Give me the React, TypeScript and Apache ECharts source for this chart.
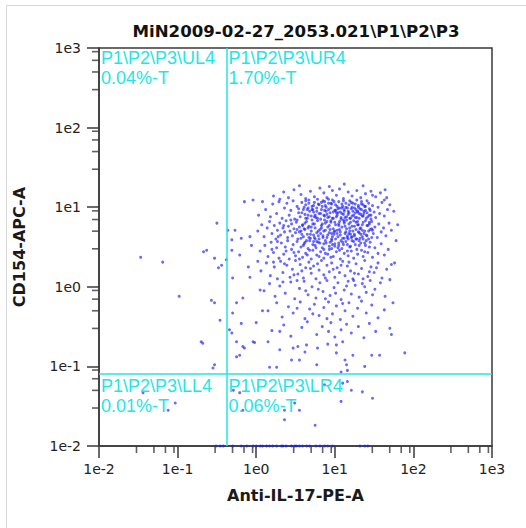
import React, { useEffect, useRef } from 'react';
import * as echarts from 'echarts';

const TITLE = 'MiN2009-02-27_2053.021\\P1\\P2\\P3';
const X_NAME = 'Anti-IL-17-PE-A';
const Y_NAME = 'CD154-APC-A';
const AXIS_MIN = 0.01;
const AXIS_MAX = 1000;
const GATE_X = 0.42;
const GATE_Y = 0.076;
const CYAN = '#22e6e6';
const DOT = 'rgba(28,28,250,0.82)';
const INK = '#3a3a3a';

const quadrantNames = ['P1\\P2\\P3\\UL4', 'P1\\P2\\P3\\UR4', 'P1\\P2\\P3\\LL4', 'P1\\P2\\P3\\LR4'];
const quadrantPercents = ['0.04%-T', '1.70%-T', '0.01%-T', '0.06%-T'];
const quadrantAnchorX = [AXIS_MIN, GATE_X, AXIS_MIN, GATE_X];
const quadrantAnchorY = [AXIS_MAX, AXIS_MAX, GATE_Y, GATE_Y];

const minorTickValues = [
  0.03, 0.05, 0.07, 0.09, 0.3, 0.5, 0.7, 0.9, 3, 5, 7, 9, 30, 50, 70, 90, 300, 500, 700, 900,
];

// events as [log10 PE, log10 APC]
const upperCluster: number[][] = [
  [0.22,1.14],[0.35,1.19],[0.41,1.12],[0.48,1.22],[0.57,1.16],[0.63,1.11],[0.69,1.2],[0.74,1.13],[0.81,1.24],[0.86,1.18],
  [0.9,1.12],[0.97,1.21],[1.02,1.15],[1.06,1.23],[1.11,1.11],[1.17,1.19],[1.22,1.14],[1.28,1.21],[1.33,1.12],[1.39,1.17],
  [1.46,1.2],[1.52,1.13],[1.58,1.18],[0.3,1.1],[0.78,1.1],
  [0.12,0.97],[0.18,0.88],[0.21,1.04],[0.26,0.92],[0.29,1.07],[0.33,0.86],[0.36,0.99],[0.39,1.05],[0.42,0.9],[0.44,0.96],
  [0.47,1.08],[0.49,0.85],[0.52,1.01],[0.54,0.93],[0.56,0.88],[0.58,1.06],[0.6,0.97],[0.62,0.91],[0.63,1.03],[0.65,0.86],
  [0.67,1.09],[0.68,0.95],[0.7,0.89],[0.71,1.01],[0.73,0.94],[0.74,1.06],[0.76,0.87],[0.77,0.99],[0.79,1.04],[0.8,0.92],
  [0.82,0.85],[0.83,0.97],[0.85,1.08],[0.86,0.9],[0.88,1.02],[0.89,0.95],[0.91,0.87],[0.92,1.05],[0.94,0.93],[0.95,0.99],
  [0.97,1.09],[0.98,0.86],[1.0,0.96],[1.01,1.03],[1.03,0.9],[1.04,0.98],[1.05,1.07],[1.07,0.94],[1.08,0.85],[1.1,1.01],
  [1.11,0.91],[1.12,0.97],[1.14,1.05],[1.15,0.88],[1.16,0.99],[1.18,0.93],[1.19,1.08],[1.2,0.86],[1.22,1.0],[1.23,0.95],
  [1.24,0.9],[1.26,1.04],[1.27,0.97],[1.28,0.87],[1.3,1.02],[1.31,0.92],[1.32,0.98],[1.34,1.07],[1.35,0.89],[1.37,0.95],
  [1.38,1.01],[1.4,0.86],[1.41,0.93],[1.43,1.05],[1.44,0.98],[1.46,0.9],[1.48,1.02],[1.5,0.94],[1.52,0.87],[1.55,1.0],
  [1.57,0.92],[1.6,1.06],[1.63,0.89],[1.67,0.97],[1.7,1.03],[0.66,0.99],[0.75,0.9],[0.84,1.01],[0.93,0.88],[1.02,0.93],
  [1.09,1.04],[1.13,0.87],[1.21,1.06],[1.29,0.94],[1.36,1.03],[1.42,0.88],[1.06,0.99],[0.96,1.04],[0.87,0.96],[1.17,0.95],
  [1.25,0.99],[1.33,0.91],[0.72,0.97],[0.61,1.0],[1.39,0.96],
];

const middleCluster: number[][] = [
  [0.02,0.7],[0.07,0.78],[0.1,0.63],[0.14,0.74],[0.17,0.82],[0.2,0.67],[0.23,0.77],[0.25,0.6],[0.27,0.71],[0.3,0.8],
  [0.31,0.65],[0.34,0.74],[0.36,0.69],[0.38,0.83],[0.4,0.62],[0.41,0.76],[0.43,0.7],[0.45,0.79],[0.46,0.64],[0.48,0.73],
  [0.5,0.68],[0.51,0.81],[0.53,0.6],[0.55,0.75],[0.57,0.7],[0.59,0.78],[0.6,0.63],[0.62,0.72],[0.64,0.82],[0.65,0.66],
  [0.67,0.76],[0.69,0.61],[0.7,0.7],[0.72,0.79],[0.73,0.65],[0.75,0.74],[0.77,0.68],[0.78,0.83],[0.8,0.6],[0.81,0.72],
  [0.83,0.77],[0.85,0.64],[0.86,0.7],[0.88,0.8],[0.9,0.62],[0.91,0.75],[0.93,0.68],[0.95,0.81],[0.96,0.6],[0.98,0.73],
  [0.99,0.66],[1.01,0.78],[1.03,0.71],[1.04,0.63],[1.06,0.82],[1.07,0.69],[1.09,0.75],[1.1,0.61],[1.12,0.8],[1.13,0.67],
  [1.15,0.73],[1.16,0.64],[1.18,0.79],[1.19,0.7],[1.21,0.62],[1.22,0.76],[1.24,0.83],[1.25,0.66],[1.27,0.72],[1.28,0.6],
  [1.3,0.78],[1.31,0.68],[1.33,0.74],[1.35,0.63],[1.36,0.81],[1.38,0.7],[1.4,0.65],[1.41,0.77],[1.43,0.6],[1.45,0.72],
  [1.47,0.82],[1.49,0.67],[1.51,0.75],[1.54,0.62],[1.56,0.79],[1.59,0.69],[1.62,0.74],[1.65,0.64],[1.69,0.8],[0.28,0.63],
  [0.44,0.84],[0.58,0.66],[0.74,0.62],[0.87,0.84],[1.0,0.7],[1.11,0.84],[1.2,0.66],[1.32,0.61],[1.44,0.79],[0.52,0.72],
  [0.66,0.74],[0.94,0.72],[1.05,0.77],[1.17,0.6],[1.29,0.82],[1.37,0.67],[0.35,0.77],[0.82,0.67],[1.48,0.71],
  [0.05,0.45],[0.11,0.52],[0.15,0.38],[0.19,0.56],[0.22,0.43],[0.26,0.49],[0.29,0.36],[0.32,0.55],[0.35,0.41],[0.37,0.5],
  [0.4,0.58],[0.42,0.35],[0.45,0.47],[0.47,0.53],[0.5,0.39],[0.52,0.57],[0.54,0.44],[0.57,0.5],[0.59,0.37],[0.61,0.54],
  [0.63,0.42],[0.66,0.48],[0.68,0.58],[0.7,0.35],[0.72,0.46],[0.75,0.52],[0.77,0.4],[0.79,0.56],[0.82,0.44],[0.84,0.49],
  [0.86,0.36],[0.89,0.55],[0.91,0.41],[0.93,0.47],[0.96,0.58],[0.98,0.38],[1.0,0.51],[1.02,0.44],[1.05,0.55],[1.07,0.35],
  [1.09,0.48],[1.12,0.42],[1.14,0.57],[1.17,0.39],[1.19,0.5],[1.21,0.45],[1.24,0.36],[1.26,0.53],[1.29,0.41],[1.31,0.58],
  [1.34,0.46],[1.36,0.38],[1.39,0.52],[1.42,0.43],[1.45,0.56],[1.48,0.37],[1.51,0.49],[1.55,0.42],[1.59,0.54],[1.63,0.4],
  [1.68,0.47],[0.2,0.47],[0.38,0.45],[0.55,0.35],[0.65,0.4],[0.73,0.57],[0.88,0.42],[0.95,0.37],[1.04,0.49],[1.11,0.53],
  [1.22,0.58],[1.28,0.47],[1.38,0.44],[1.44,0.5],[0.8,0.38],[0.48,0.43],[0.62,0.56],[0.97,0.53],[1.16,0.45],[1.33,0.55],
  [0.27,0.57],
];

const coreEvents: number[][] = [
  [0.83,1.06],[1.27,0.81],[0.64,0.58],[1.12,0.95],[0.97,0.63],[1.41,1.08],[0.71,0.84],[1.05,0.52],[0.58,0.93],[1.33,0.66],
  [0.92,1.1],[1.19,0.74],[0.76,0.49],[1.46,0.85],[1.02,0.88],[0.67,1.05],[1.24,0.57],[0.88,0.71],[1.37,0.92],[0.55,0.69],
  [1.09,0.99],[0.81,0.55],[1.3,1.0],[0.95,0.83],[1.16,0.62],[0.73,1.02],[1.43,0.7],[1.01,0.6],[0.62,0.8],[1.22,0.89],
  [0.86,0.47],[1.35,0.78],[0.99,1.07],[1.14,0.69],[0.69,0.66],[1.28,1.09],[0.9,0.91],[1.06,0.72],[0.77,0.95],[1.4,0.58],
  [0.6,0.52],[1.18,1.03],[0.94,0.56],[1.31,0.86],[0.84,0.79],[1.08,0.87],[0.72,0.53],[1.45,0.96],[1.0,0.81],[1.25,0.64],
  [0.66,0.9],[1.13,0.76],[0.89,1.0],[1.36,0.6],[0.79,0.7],[1.21,0.98],[0.96,0.48],[1.04,0.93],[0.57,0.61],[1.32,0.73],
  [1.11,1.08],[0.85,0.62],[1.39,0.83],[0.7,0.75],[1.2,0.51],[0.93,0.77],[1.47,0.62],[0.63,1.08],[1.07,0.65],[1.29,0.95],
  [0.78,0.86],[1.15,0.84],[0.98,0.94],[1.34,1.04],[0.52,0.84],[1.23,0.7],[0.87,0.89],[1.1,0.56],[0.75,0.6],[1.42,0.77],
  [1.03,1.01],[0.68,0.46],[1.26,0.87],[0.91,0.65],[1.17,0.91],[0.8,1.03],[1.38,0.55],[0.61,0.73],[1.05,0.79],[1.3,0.69],
  [0.95,1.05],[1.12,0.61],[0.74,0.88],[1.44,0.9],[0.86,0.54],[1.2,0.81],[0.99,0.69],[1.34,0.97],[0.65,0.97],[1.16,0.53],
  [0.82,0.92],[1.27,0.6],[0.97,0.86],[1.09,0.92],[0.59,0.77],[1.41,0.64],[0.88,0.58],[1.23,1.05],[1.06,0.46],[0.71,0.97],
  [1.36,0.89],[0.93,0.51],[1.18,0.67],[0.79,0.64],[1.01,0.96],[1.31,0.52],[0.67,0.62],[1.14,1.0],[0.9,0.82],[1.25,0.76],
  [1.47,0.73],[0.54,0.98],[1.08,0.58],[0.83,0.74],[1.39,1.01],[0.96,0.67],[1.22,0.63],[0.74,0.79],[1.12,0.82],[0.87,1.07],
  [1.29,0.78],[1.03,0.67],[0.63,0.86],[1.35,0.71],[0.92,0.97],[1.19,0.86],[0.77,0.57],[1.44,0.81],[1.0,0.54],[1.26,0.93],
  [0.55,1.27],[1.12,1.29],[0.93,1.26],[1.36,1.27],[1.64,1.22],[1.75,0.95],[1.78,0.58],[1.76,0.3],[1.74,-0.2],[1.8,0.78],
  [1.72,-0.6],[0.02,0.32],[-0.06,0.52],[0.03,0.9],[-0.1,0.25],[0.08,-0.3],[0.0,-0.45],[1.66,1.12],
];

const lowerCluster: number[][] = [
  [0.06,0.2],[0.13,0.3],[0.18,0.14],[0.23,0.25],[0.27,0.1],[0.31,0.32],[0.34,0.18],[0.39,0.27],[0.43,0.12],[0.46,0.22],
  [0.5,0.33],[0.53,0.16],[0.56,0.28],[0.6,0.11],[0.63,0.24],[0.67,0.31],[0.7,0.17],[0.73,0.26],[0.76,0.1],[0.8,0.21],
  [0.83,0.33],[0.86,0.15],[0.9,0.27],[0.93,0.19],[0.96,0.3],[1.0,0.12],[1.03,0.24],[1.06,0.18],[1.1,0.32],[1.13,0.14],
  [1.16,0.26],[1.2,0.2],[1.23,0.1],[1.27,0.29],[1.3,0.16],[1.34,0.23],[1.38,0.33],[1.42,0.13],[1.46,0.25],[1.5,0.18],
  [1.55,0.3],[1.6,0.11],[1.66,0.22],[1.72,0.28],[0.36,0.29],[0.58,0.2],[0.78,0.29],[0.88,0.11],[1.08,0.27],[1.25,0.17],
  [1.36,0.1],[0.48,0.15],[0.69,0.23],[0.98,0.22],[1.18,0.31],[1.44,0.19],[0.22,0.31],[1.53,0.24],
  [0.1,-0.05],[0.17,0.04],[0.24,-0.12],[0.3,0.01],[0.37,-0.08],[0.44,0.06],[0.49,-0.15],[0.55,-0.02],[0.61,0.07],[0.66,-0.1],
  [0.71,0.0],[0.76,-0.14],[0.81,0.05],[0.85,-0.06],[0.9,0.08],[0.94,-0.11],[0.99,-0.01],[1.04,0.05],[1.08,-0.16],[1.12,-0.04],
  [1.17,0.07],[1.21,-0.09],[1.26,0.02],[1.31,-0.13],[1.35,0.04],[1.4,-0.07],[1.45,0.08],[1.51,-0.03],[1.58,0.05],[1.64,-0.12],
  [0.52,0.08],[0.79,-0.03],[1.01,-0.08],[1.15,0.01],[1.38,0.0],[0.34,0.06],[0.63,-0.05],[0.88,-0.15],[1.24,0.08],[1.48,-0.1],
  [0.15,-0.3],[0.26,-0.2],[0.33,-0.38],[0.41,-0.25],[0.47,-0.33],[0.56,-0.19],[0.62,-0.4],[0.68,-0.28],[0.74,-0.22],[0.8,-0.36],
  [0.86,-0.26],[0.92,-0.19],[0.97,-0.34],[1.02,-0.24],[1.07,-0.41],[1.13,-0.3],[1.18,-0.2],[1.23,-0.37],[1.29,-0.27],[1.34,-0.18],
  [1.4,-0.33],[1.47,-0.23],[1.55,-0.39],[1.63,-0.29],[0.72,-0.34],[1.1,-0.21],[0.52,-0.27],[0.9,-0.4],
  [0.2,-0.55],[0.35,-0.48],[0.44,-0.62],[0.58,-0.51],[0.65,-0.44],[0.77,-0.6],[0.84,-0.5],[0.95,-0.45],[1.0,-0.63],[1.08,-0.54],
  [1.15,-0.47],[1.21,-0.58],[1.3,-0.5],[1.37,-0.64],[1.44,-0.46],[1.52,-0.56],[1.7,-0.52],[0.92,-0.56],
];

const sparseEvents: number[][] = [
  [-0.67,0.44],[-0.63,0.46],[-0.5,0.8],[-0.53,0.36],[-0.48,0.24],[-0.44,0.27],[-0.57,-0.17],[-0.53,-0.2],[-0.46,-0.42],
  [-1.19,0.31],[-1.47,0.37],[-0.98,-0.12],[-0.7,-0.69],[-0.68,-0.71],[-0.53,-0.98],[-0.55,-1.02],
  [-0.38,0.34],[-0.36,0.71],[-0.31,0.59],[-0.31,0.46],[-0.34,-0.54],[-0.31,-0.58],
  [-0.15,1.07],[-0.04,1.09],[0.08,1.07],[-0.27,0.71],[-0.19,0.61],[-0.08,0.63],[-0.21,0.4],[-0.3,0.11],[-0.08,0.12],
  [0.05,-0.04],[-0.25,-0.2],[-0.17,-0.14],[-0.19,-0.46],[-0.3,-0.33],[-0.04,-0.69],[-0.17,-0.75],[-0.25,-0.88],[0.3,-0.56],
  [-0.25,-0.69],[-0.15,-0.77],[-0.21,-0.86],[-0.02,-0.7],[0.15,-0.69],[0.3,-0.79],[0.47,-0.77],[0.53,-0.75],[0.64,-0.73],
  [0.62,-0.82],[0.45,-0.92],[0.55,-0.92],[0.17,-1.01],[0.26,-1.01],[0.77,-0.98],[0.78,-0.77],[0.91,-0.72],[1.02,-0.73],
  [1.02,-0.83],[1.1,-0.69],[1.13,-0.92],[1.15,-0.98],[1.23,-0.86],[1.16,-1.05],[1.08,-1.07],[1.38,-1.0],[1.47,-0.86],
  [1.57,-0.86],[1.89,-0.83],
  [-0.29,-1.3],[-0.21,-1.33],[-0.17,-1.55],[0.36,-1.55],[0.36,-1.67],[0.49,-1.46],[0.55,-1.55],[0.75,-1.74],[1.08,-1.44],
  [1.1,-1.21],[1.16,-1.19],[1.21,-1.3],[1.35,-1.32],[1.48,-1.4],[0.87,-1.23],
  [-1.44,-1.33],[-1.12,-1.55],[-1.03,-1.46],
  [1.7,0.09],[1.72,0.71],[1.63,1.09],[1.48,1.15],
];

// log10 PE of events whose APC value sits at the axis floor (1e-2)
const floorEvents: number[] = [
  -0.51,-0.46,-0.42,-0.3,-0.19,-0.12,-0.04,0.0,0.05,0.08,0.13,0.17,0.21,0.26,0.32,0.34,
  0.38,0.45,0.49,0.51,0.55,0.59,0.64,0.68,0.76,0.81,0.87,0.91,0.97,1.32,1.38,1.42,
];

const tickFormatter = (v: number) => '1e' + Math.round(Math.log10(v));

export default function App() {
  const ref = useRef<HTMLDivElement>(null);
  useEffect(() => {
    const chart = echarts.init(ref.current as HTMLDivElement, null, { renderer: 'svg' });
    const toLin = (p: number[]) => [Math.pow(10, p[0]), Math.pow(10, p[1])];
    const events = [...upperCluster, ...middleCluster, ...coreEvents, ...lowerCluster, ...sparseEvents]
      .map(toLin)
      .concat(floorEvents.map((x) => [Math.pow(10, x), AXIS_MIN]));

    const axisCommon = {
      type: 'log',
      logBase: 10,
      min: AXIS_MIN,
      max: AXIS_MAX,
      splitNumber: 5,
      nameLocation: 'middle',
      nameTextStyle: { fontFamily: 'DejaVu Sans', fontWeight: 'bold', fontSize: 16, color: '#1a1a1a' },
      axisLine: { show: true, onZero: false, lineStyle: { color: INK, width: 1.5 } },
      axisTick: { show: true, length: 12, lineStyle: { color: INK, width: 1.5 } },
      axisLabel: { fontFamily: 'DejaVu Sans', fontSize: 14, color: '#222', formatter: tickFormatter },
      splitLine: { show: false },
    };

    chart.setOption({
      animation: false,
      backgroundColor: '#ffffff',
      title: {
        text: TITLE,
        left: 296,
        top: 23,
        textAlign: 'center',
        padding: 0,
        textStyle: { fontFamily: 'DejaVu Sans', fontWeight: 'bold', fontSize: 16.6, color: '#111' },
      },
      graphic: [
        {
          type: 'rect',
          silent: true,
          z: -10,
          shape: { x: 6.5, y: 5.5, width: 700, height: 700 },
          style: { fill: 'transparent', stroke: '#d8d8d8', lineWidth: 1 },
        },
      ],
      grid: {
        left: 99,
        top: 48,
        width: 393,
        height: 398,
        show: true,
        borderColor: INK,
        borderWidth: 1.5,
        backgroundColor: 'transparent',
      },
      xAxis: {
        ...axisCommon,
        name: X_NAME,
        nameGap: 41,
        axisLabel: { ...axisCommon.axisLabel, margin: 16 },
      },
      yAxis: {
        ...axisCommon,
        name: Y_NAME,
        nameGap: 72,
        axisLabel: { ...axisCommon.axisLabel, margin: 18 },
      },
      series: [
        {
          // minor ticks on the x axis (3, 5, 7, 9 per decade)
          type: 'scatter',
          data: minorTickValues.map((v) => [v, AXIS_MIN]),
          symbol: 'rect',
          symbolSize: [1.6, 7],
          symbolOffset: [0, 3.5],
          itemStyle: { color: INK },
        },
        {
          // minor ticks on the y axis
          type: 'scatter',
          data: minorTickValues.map((v) => [AXIS_MIN, v]),
          symbol: 'rect',
          symbolSize: [7, 1.6],
          symbolOffset: [-3.5, 0],
          itemStyle: { color: INK },
        },
        {
          type: 'scatter',
          data: events,
          symbol: 'circle',
          symbolSize: 3,
          itemStyle: { color: DOT },
          markLine: {
            silent: true,
            symbol: 'none',
            label: { show: false },
            lineStyle: { color: CYAN, width: 1.5, type: 'solid' },
            data: [{ xAxis: GATE_X }, { yAxis: GATE_Y }],
          },
        },
        {
          type: 'custom',
          clip: false,
          silent: true,
          z: 6,
          data: quadrantNames.map((_, i) => [quadrantAnchorX[i], quadrantAnchorY[i]]),
          renderItem: (params: any, api: any) => {
            const i = params.dataIndex;
            const p = api.coord([api.value(0), api.value(1)]);
            const font = '18px "Liberation Sans", Arial, sans-serif';
            return {
              type: 'group',
              children: [
                {
                  type: 'text',
                  x: p[0] + 2,
                  y: p[1] + 1,
                  style: { text: quadrantNames[i], fill: CYAN, font, verticalAlign: 'top', align: 'left' },
                },
                {
                  type: 'text',
                  x: p[0] + 2,
                  y: p[1] + 21,
                  style: { text: quadrantPercents[i], fill: CYAN, font, verticalAlign: 'top', align: 'left' },
                },
              ],
            };
          },
        },
      ],
    });

    return () => chart.dispose();
  }, []);
  return (
    <div
      ref={ref}
      style={{ position: 'fixed', left: 0, top: 0, width: 526, height: 528, background: '#fff' }}
    />
  );
}
